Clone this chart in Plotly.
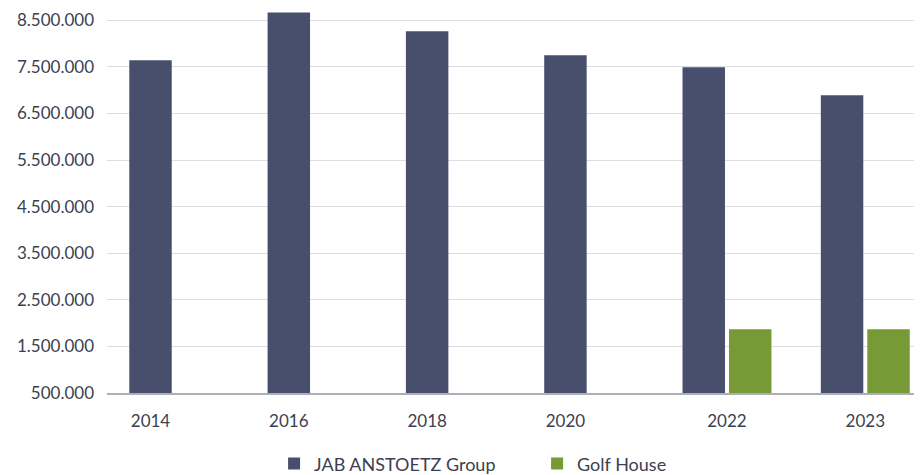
import plotly.graph_objects as go

years = ["2014", "2016", "2018", "2020", "2022", "2023"]
jab_values = [7640000, 8670000, 8265000, 7750000, 7490000, 6890000]
golf_values = [None, None, None, None, 1870000, 1870000]
series_names = ["JAB ANSTOETZ Group", "Golf House"]
y_ticks = [500000, 1500000, 2500000, 3500000, 4500000, 5500000, 6500000, 7500000, 8500000]

OFF = 0.168
W = 0.307
idx = list(range(len(years)))
x_jab = [i - OFF for i in idx]
x_golf = [i + OFF for i in idx]
tick_pos = [i if g is not None else i - OFF for i, g in zip(idx, golf_values)]

font_family = "Lato, 'Open Sans', sans-serif"
text_color = "#3b3f50"

fig = go.Figure()
fig.add_trace(go.Bar(
    x=x_jab, y=jab_values, width=W, name=series_names[0],
    marker=dict(color="#474f6c", line=dict(width=0)),
))
fig.add_trace(go.Bar(
    x=x_golf, y=golf_values, width=W, name=series_names[1],
    marker=dict(color="#789a36", line=dict(width=0)),
))

fig.update_layout(
    width=914, height=467,
    margin=dict(l=99, r=0, t=0, b=82, autoexpand=False),
    plot_bgcolor="white", paper_bgcolor="white",
    barmode="overlay",
    separators=",.",
    font=dict(family=font_family, size=17, color=text_color),
    showlegend=True,
    legend=dict(
        orientation="h", xanchor="left", x=0.205, yanchor="middle", y=-0.184,
        entrywidth=218, entrywidthmode="pixels",
        font=dict(family=font_family, size=18, color=text_color),
        itemclick=False,
    ),
    xaxis=dict(
        range=[-0.4826, 5.41],
        tickmode="array", tickvals=tick_pos, ticktext=years,
        showgrid=False, zeroline=False,
        showline=True, linecolor="#aeaeba", linewidth=2,
        ticks="", ticklabelstandoff=12, automargin=False,
        tickfont=dict(family=font_family, size=17, color=text_color),
        fixedrange=True,
    ),
    yaxis=dict(
        range=[500000, 8764000],
        tickmode="array", tickvals=y_ticks, tickformat=",d",
        showgrid=True, gridcolor="#dcdce2", gridwidth=1,
        zeroline=False, showline=False,
        ticks="", ticklabelstandoff=12, automargin=False,
        tickfont=dict(family=font_family, size=17, color=text_color),
        fixedrange=True,
    ),
)

fig.write_html("out.html")
